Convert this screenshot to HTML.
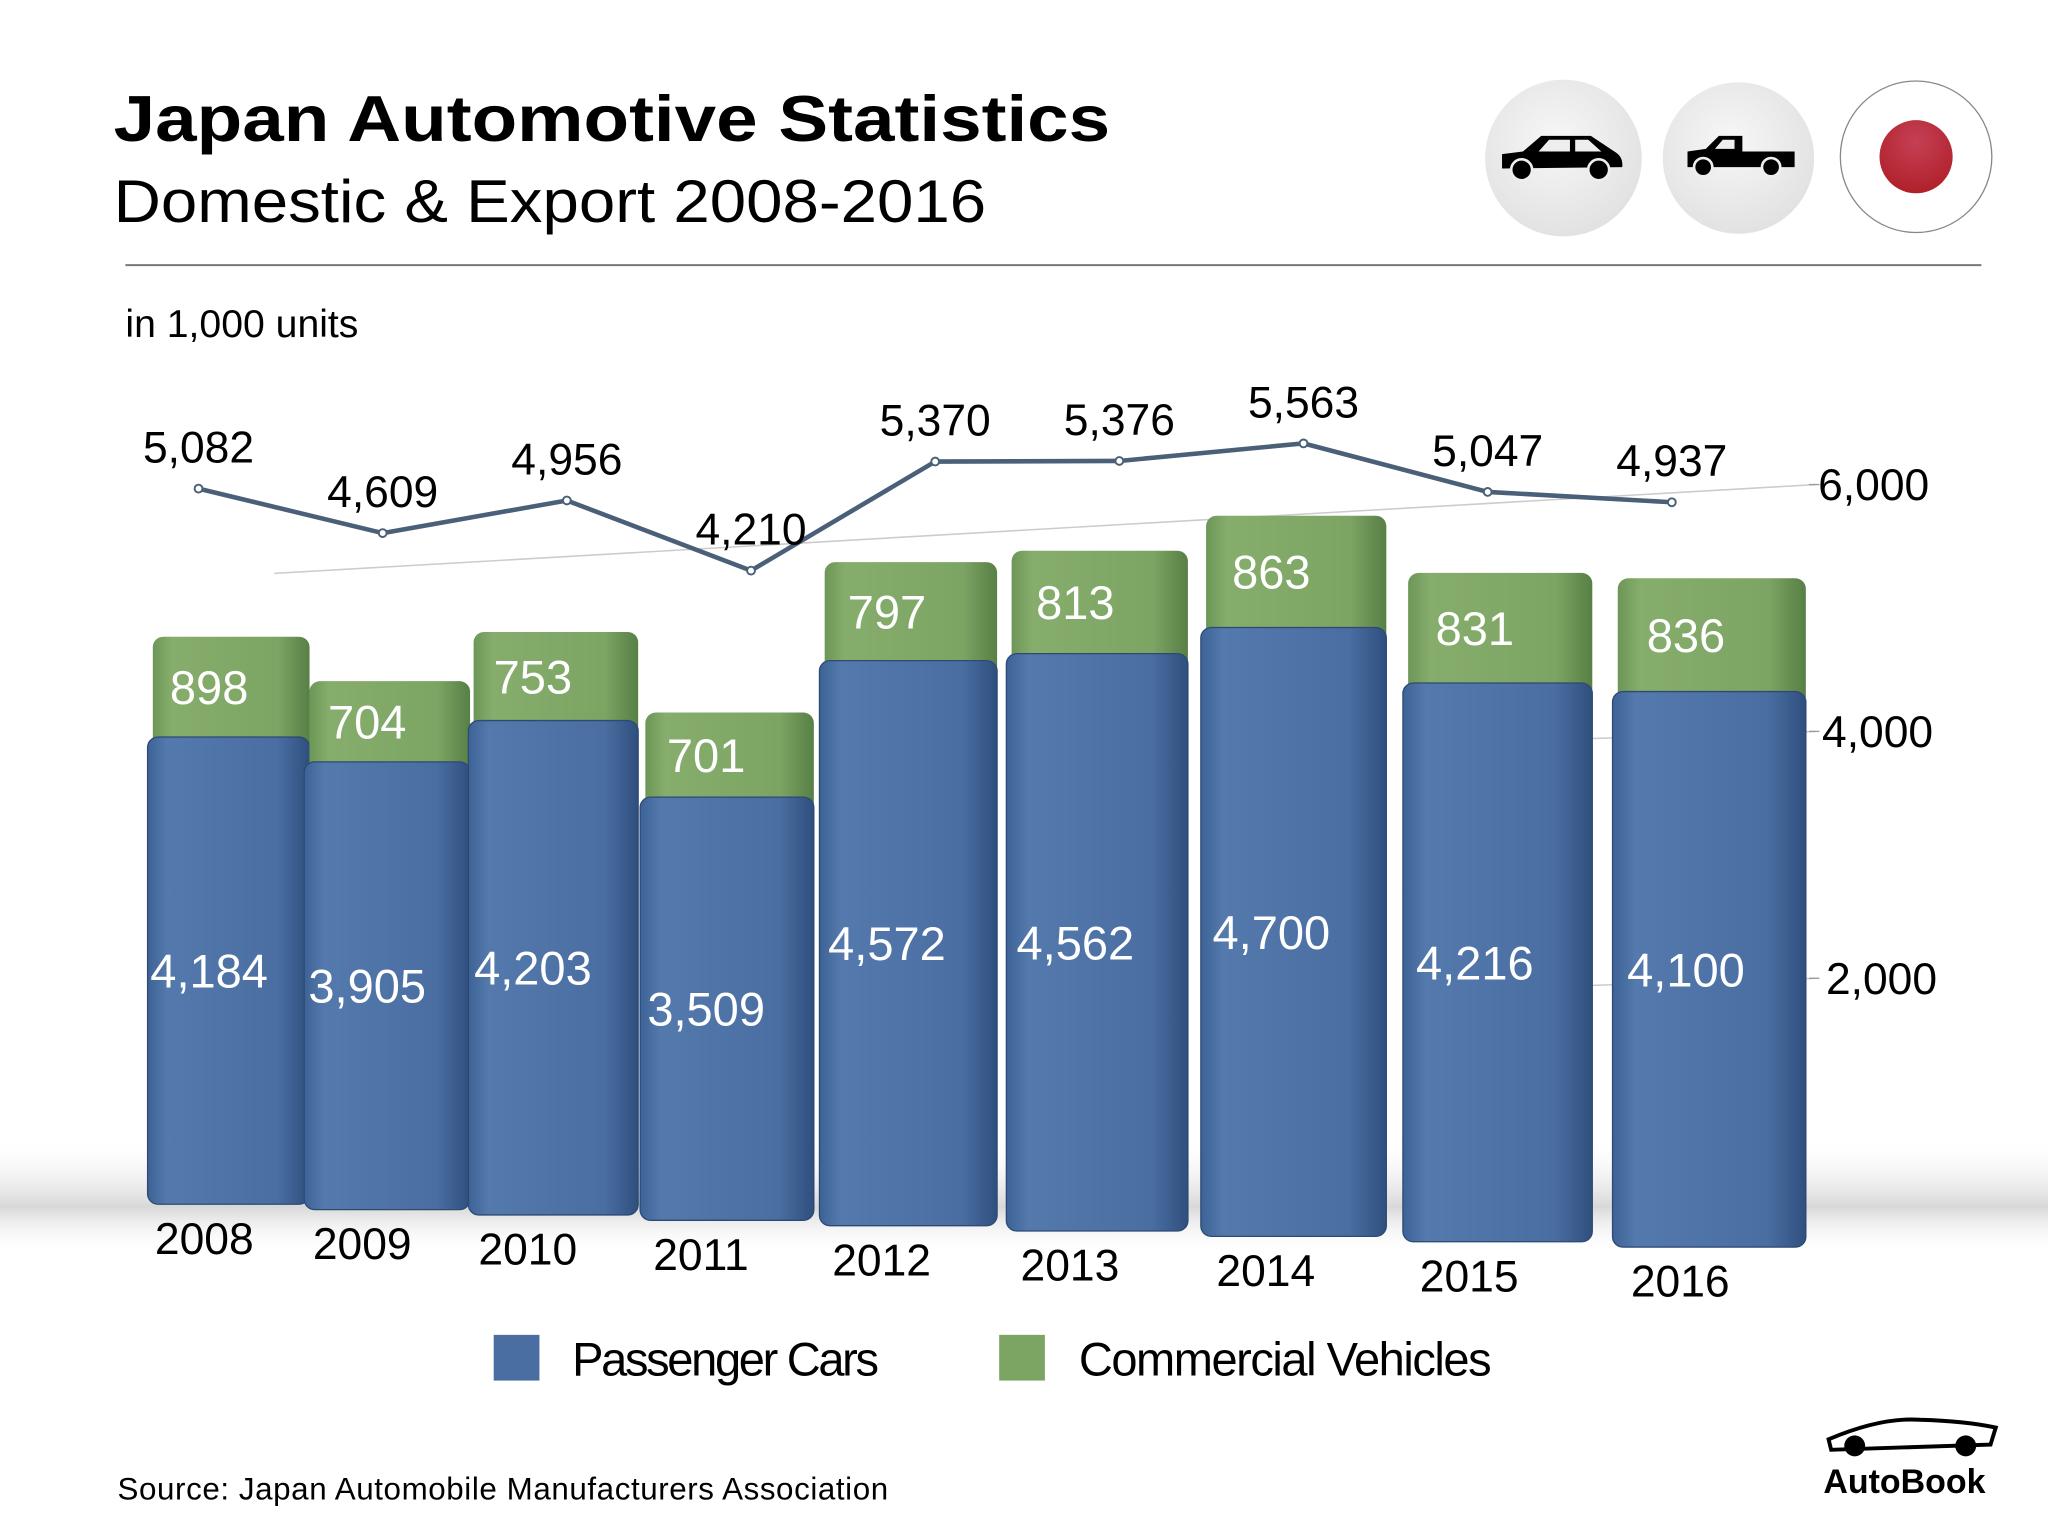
<!DOCTYPE html>
<html><head><meta charset="utf-8"><style>
html,body{margin:0;padding:0;background:#fff}
svg{display:block}
text{font-family:"Liberation Sans",sans-serif}
</style></head><body>
<svg id="chart" width="2048" height="1536" viewBox="0 0 1568 1176" xmlns="http://www.w3.org/2000/svg">
<defs>
<linearGradient id="gBlue" x1="0" x2="1" y1="0" y2="0">
<stop offset="0" stop-color="#3d6296"/><stop offset="0.12" stop-color="#5479ad"/><stop offset="0.8" stop-color="#4a6ea2"/><stop offset="1" stop-color="#2f4f7e"/></linearGradient>
<linearGradient id="gGreen" x1="0" x2="1" y1="0" y2="0">
<stop offset="0" stop-color="#6c9657"/><stop offset="0.12" stop-color="#86ad6c"/><stop offset="0.8" stop-color="#7ca463"/><stop offset="1" stop-color="#587f45"/></linearGradient>
<radialGradient id="gBtn" cx="0.45" cy="0.4" r="0.6"><stop offset="0" stop-color="#f7f7f7"/><stop offset="1" stop-color="#e2e2e2"/></radialGradient>
<radialGradient id="gRed" cx="0.5" cy="0.3" r="0.7"><stop offset="0" stop-color="#c54055"/><stop offset="1" stop-color="#b0202a"/></radialGradient>
<linearGradient id="gShadow" x1="0" x2="0" y1="0" y2="1"><stop offset="0" stop-color="#fff" stop-opacity="0"/><stop offset="0.6" stop-color="#d8d8d8"/><stop offset="1" stop-color="#fff" stop-opacity="0"/></linearGradient>
</defs>
<text x="87" y="108" font-size="50" font-weight="bold" fill="#000" textLength="763" lengthAdjust="spacingAndGlyphs">Japan Automotive Statistics</text>
<text x="87" y="170" font-size="46" fill="#000" textLength="668" lengthAdjust="spacingAndGlyphs">Domestic &amp; Export 2008-2016</text>
<g>
<circle cx="1197" cy="121" r="60" fill="url(#gBtn)"/>
<path d="M1150 118 L1166 116 L1180 104 L1218 104 L1236 116 Q1243 120 1242 128 L1150 129 Z" fill="#000"/>
<path d="M1186 107 L1202 107 L1202 116 L1178 116 Z M1206 107 L1216 107 L1226 116 L1206 116 Z" fill="#eee"/>
<circle cx="1165" cy="130" r="8" fill="#000" stroke="#eee" stroke-width="2"/><circle cx="1224" cy="130" r="8" fill="#000" stroke="#eee" stroke-width="2"/>
</g>
<g>
<circle cx="1331" cy="121" r="58" fill="url(#gBtn)"/>
<path d="M1292 116 L1306 114 L1316 104 L1334 104 L1334 116 L1374 116 L1374 128 L1292 128 Z" fill="#000"/>
<path d="M1319 107 L1328 107 L1328 114 L1313 114 Z" fill="#eee"/>
<circle cx="1304" cy="128" r="7" fill="#000" stroke="#eee" stroke-width="2"/><circle cx="1356" cy="128" r="7" fill="#000" stroke="#eee" stroke-width="2"/>
</g>
<g>
<circle cx="1467" cy="120" r="58" fill="#fff" stroke="#888" stroke-width="1"/>
<circle cx="1467" cy="120" r="28" fill="url(#gRed)"/>
</g>
<line x1="96" y1="203" x2="1517" y2="203" stroke="#777" stroke-width="1.5"/>
<text x="96" y="258" font-size="30" fill="#000">in 1,000 units</text>
<rect x="0" y="870" width="1568" height="90" fill="url(#gShadow)"/>
<g id="grid"></g>
<g id="bars"></g>
<g id="line"></g>
<g>
<rect x="378" y="1022" width="35" height="35" fill="#4a6ea2"/>
<text x="438" y="1053" font-size="36" fill="#000" textLength="235">Passenger Cars</text>
<rect x="765" y="1022" width="35" height="35" fill="#7ca463"/>
<text x="826" y="1053" font-size="36" fill="#000" textLength="316">Commercial Vehicles</text>
</g>
<text x="90" y="1148" font-size="24" fill="#000" textLength="590">Source:  Japan Automobile Manufacturers Association</text>
<g>
<path d="M1400 1102 Q1440 1085 1470 1087 Q1505 1088 1528 1093 L1524 1106 L1402 1110 Z" fill="none" stroke="#000" stroke-width="3"/>
<circle cx="1420" cy="1107" r="8" fill="#000"/><circle cx="1505" cy="1107" r="8" fill="#000"/>
<text x="1396" y="1143" font-size="26" font-weight="bold" fill="#000">AutoBook</text>
</g>
</svg>
<script>
const years = ["2008","2009","2010","2011","2012","2013","2014","2015","2016"];
const passenger = [4184,3905,4203,3509,4572,4562,4700,4216,4100];
const commercial = [898,704,753,701,797,813,863,831,836];
const totals = [5082,4609,4956,4210,5370,5376,5563,5047,4937];
const passengerLabels = ["4,184","3,905","4,203","3,509","4,572","4,562","4,700","4,216","4,100"];
const commercialLabels = ["898","704","753","701","797","813","863","831","836"];
const totalLabels = ["5,082","4,609","4,956","4,210","5,370","5,376","5,563","5,047","4,937"];
const axisTicks = [2000,4000,6000];
const axisTickLabels = ["2,000","4,000","6,000"];

const NS="http://www.w3.org/2000/svg";
function mk(tag,attrs,parent){const e=document.createElementNS(NS,tag);for(const k in attrs)e.setAttribute(k,attrs[k]);parent.appendChild(e);return e;}
function barLeft(i){return 113+117*i+2.9*i*i;}
function barWidth(i){return 124+3*i;}
function barBottom(i){return 922+4.1*i;}
function barScale(i){return 0.0855+0.00228*i;}
function lineX(i){return 152+141*i;}
function lineY(v){return 740-0.072*v;}
function axisY(v){return 938-0.0945*v;}

const grid=document.getElementById('grid');
axisTicks.forEach((t,j)=>{
  const y=axisY(t);
  const x1 = j===2 ? 210 : 1075;
  const l=mk('line',{x1:x1,y1:j===2? y+68 : y+10,x2:1390,y2:y,stroke:'#ccc','stroke-width':1.2},grid);
  
  
  const tk=mk('line',{x1:1385,y1:y,x2:1393,y2:y,stroke:'#999','stroke-width':1},grid);
  
  
  const tx=mk('text',{x:1398+j*-3,y:y+12,'font-size':34,fill:'#000'},grid);
  tx.textContent=axisTickLabels[j];
  
  
});

const bars=document.getElementById('bars');
years.forEach((yr,i)=>{
  const x=barLeft(i),w=barWidth(i),b=barBottom(i),k=barScale(i);
  const hb=passenger[i]*k, hg=commercial[i]*k;
  const g=mk('rect',{x:x+4,y:b-hb-hg,width:w-4,height:hg+12,rx:8,fill:'url(#gGreen)'},bars);
  
  
  const bl=mk('rect',{x:x,y:b-hb,width:w,height:hb,rx:8,fill:'url(#gBlue)',stroke:'#2d4a75','stroke-width':1},bars);
  
  
  const cx=x+w*0.38;
  const t1=mk('text',{x:cx,y:b-hb/2+13,'font-size':36,fill:'#fff','text-anchor':'middle'},bars);
  t1.textContent=passengerLabels[i];
  
  
  const t2=mk('text',{x:cx,y:b-hb-hg/2+13,'font-size':36,fill:'#fff','text-anchor':'middle'},bars);
  t2.textContent=commercialLabels[i];
  
  
  const t3=mk('text',{x:x+w*0.35,y:b+38,'font-size':34,fill:'#000','text-anchor':'middle'},bars);
  t3.textContent=yr;
  
  
});

const lg=document.getElementById('line');
const pts=totals.map((v,i)=>lineX(i)+','+lineY(v)).join(' ');
const pl=mk('polyline',{points:pts,fill:'none',stroke:'#4a5f78','stroke-width':3.5,'stroke-linejoin':'round'},lg);


totals.forEach((v,i)=>{
  const c=mk('circle',{cx:lineX(i),cy:lineY(v),r:3,fill:'#fff',stroke:'#4a5f78','stroke-width':1.5},lg);
  
  
  const t=mk('text',{x:lineX(i),y:lineY(v)-20,'font-size':34,fill:'#000','text-anchor':'middle'},lg);
  t.textContent=totalLabels[i];
  
  
});
</script>
</body></html>
